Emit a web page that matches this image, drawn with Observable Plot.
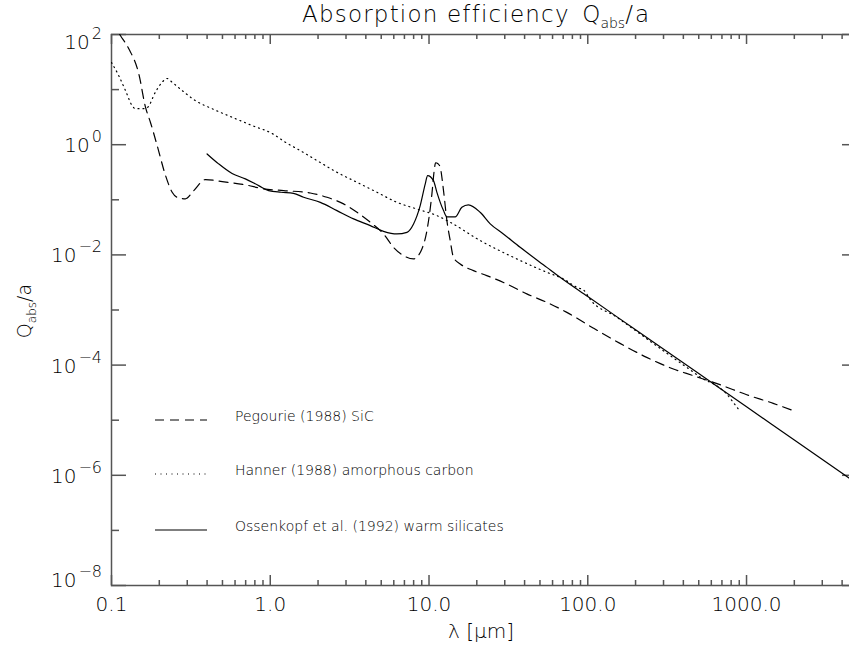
<!DOCTYPE html>
<html>
<head>
<meta charset="utf-8">
<script src="https://cdn.jsdelivr.net/npm/d3@7"></script>
<script src="https://cdn.jsdelivr.net/npm/@observablehq/plot@0.6"></script>
<style>
  html, body { margin: 0; padding: 0; background: #fff; overflow: hidden; }
  #chart { width: 849px; height: 650px; overflow: hidden; }
  #chart svg { max-width: none !important; display: block; }
</style>
</head>
<body>
<div id="chart"></div>
<script>
// ---------- data ----------
const seriesNames = [
  "Pegourie (1988) SiC",
  "Hanner (1988) amorphous carbon",
  "Ossenkopf et al. (1992) warm silicates"
];

// Pegourie (1988) SiC  (dashed)
const pegWave = [0.1, 0.114, 0.1285, 0.1486, 0.1637, 0.1758, 0.194, 0.219, 0.241, 0.259, 0.292, 0.33, 0.391, 0.498, 0.697, 0.909, 1.214, 1.788, 2.278, 2.896, 3.519, 4.266, 5.17, 5.98, 6.91, 7.99, 9.02, 9.7, 10.43, 10.78, 11.0, 11.4, 11.76, 12.34, 12.96, 13.6, 14.26, 15.72, 19.06, 23.1, 30.9, 41.3, 55.2, 73.8, 108, 159.6, 235, 346, 462, 680, 1003, 1472, 1968];
const pegQ    = [170, 95, 55, 19.3, 4.8, 2.56, 0.96, 0.275, 0.137, 0.111, 0.104, 0.147, 0.233, 0.214, 0.187, 0.158, 0.147, 0.133, 0.111, 0.0843, 0.0593, 0.0391, 0.024, 0.0137, 0.0097, 0.00845, 0.01285, 0.0276, 0.128, 0.34, 0.47, 0.45, 0.389, 0.147, 0.0419, 0.01816, 0.00904, 0.00686, 0.00519, 0.00421, 0.00297, 0.00196, 0.001377, 0.000906, 0.000472, 0.000248, 0.000138, 8.5e-5, 6.43e-5, 4.41e-5, 2.90e-5, 2.02e-5, 1.49e-5];

// Hanner (1988) amorphous carbon  (dotted)
const hanWave = [0.1, 0.111, 0.1225, 0.135, 0.1416, 0.156, 0.1678, 0.189, 0.2085, 0.224, 0.241, 0.2786, 0.3378, 0.43, 0.575, 0.768, 1.026, 1.245, 1.546, 1.97, 2.63, 3.516, 4.70, 6.28, 8.39, 11.2, 13.6, 21.0, 34.0, 55.2, 70.2, 85.3, 95, 103, 150, 314, 420, 534, 648, 750, 825, 887];
const hanQ    = [31, 18, 9.6, 5.1, 4.5, 4.5, 4.7, 9.0, 13.6, 15.9, 13.6, 9.6, 6.3, 4.5, 3.15, 2.23, 1.6, 1.11, 0.78, 0.515, 0.316, 0.208, 0.137, 0.090, 0.068, 0.0517, 0.0391, 0.0182, 0.00904, 0.00483, 0.00366, 0.00258, 0.00225, 0.00159, 0.00076, 0.000165, 9.1e-5, 5.6e-5, 4.23e-5, 2.99e-5, 2.10e-5, 1.60e-5];

// Ossenkopf et al. (1992) warm silicates  (solid)
const ossWave = [0.4, 0.473, 0.575, 0.697, 0.845, 0.977, 1.17, 1.40, 1.622, 2.067, 2.63, 3.35, 4.266, 5.17, 6.28, 7.26, 7.99, 8.80, 9.47, 9.8, 10.67, 11.2, 12.34, 12.96, 14.62, 16.1, 17.7, 21.0, 24.3, 29.4, 37.5, 55.2, 66.9, 100, 200, 500, 1000, 2000, 5000];
const ossQ    = [0.68, 0.449, 0.30, 0.24, 0.181, 0.147, 0.137, 0.131, 0.111, 0.090, 0.0637, 0.045, 0.034, 0.0268, 0.024, 0.0257, 0.0365, 0.0785, 0.195, 0.275, 0.223, 0.138, 0.0637, 0.049, 0.049, 0.0731, 0.0809, 0.0593, 0.0365, 0.024, 0.01374, 0.00594, 0.00392, 0.00175, 0.000439, 7.02e-5, 1.75e-5, 4.39e-6, 7.0e-7];

// ticks
const xMajor = [0.1, 1, 10, 100, 1000];
const xMajorLabels = ["0.1", "1.0", "10.0", "100.0", "1000.0"];
const xMinor = [0.2, 0.3, 0.4, 0.5, 0.6, 0.7, 0.8, 0.9,
                2, 3, 4, 5, 6, 7, 8, 9,
                20, 30, 40, 50, 60, 70, 80, 90,
                200, 300, 400, 500, 600, 700, 800, 900,
                2000, 3000, 4000];
const yMajor = [1e2, 1e0, 1e-2, 1e-4, 1e-6, 1e-8];
const yExponents = ["2", "0", "\u22122", "\u22124", "\u22126", "\u22128"];
const yMinor = [1e1, 1e-1, 1e-3, 1e-5, 1e-7];

// ---------- build ----------
const rows = (w, q, s) => w.map((x, i) => ({wave: x, q: q[i], series: s}));
const peg = rows(pegWave, pegQ, seriesNames[0]);
const han = rows(hanWave, hanQ, seriesNames[1]);
const oss = rows(ossWave, ossQ, seriesNames[2]);

const W = 857, H = 650, mL = 111, mR = 0, mT = 34, mB = 65;
const innerW = W - mL - mR, innerH = H - mT - mB;
const AX = "#555", AXW = 1.5;
const FONT = "'DejaVu Sans', sans-serif";
const FW = 200;
const TXT = "#000";

const plot = Plot.plot({
  width: W, height: H,
  marginLeft: mL, marginRight: mR, marginTop: mT, marginBottom: mB,
  x: {type: "log", domain: [0.1, 5000], axis: null},
  y: {type: "log", domain: [1e-8, 1e2], axis: null},
  style: {background: "white", fontFamily: FONT},
  marks: [
    // ticks (inward)
    Plot.ruleX(xMajor, {x: d => d, stroke: AX, strokeWidth: AXW, insetTop: innerH - 10}),
    Plot.ruleX(xMinor, {x: d => d, stroke: AX, strokeWidth: AXW, insetTop: innerH - 5}),
    Plot.ruleX(xMajor, {x: d => d, stroke: AX, strokeWidth: AXW, insetBottom: innerH - 10}),
    Plot.ruleX(xMinor, {x: d => d, stroke: AX, strokeWidth: AXW, insetBottom: innerH - 5}),
    Plot.ruleY(yMajor, {y: d => d, stroke: AX, strokeWidth: AXW, insetRight: innerW - 15}),
    Plot.ruleY(yMinor, {y: d => d, stroke: AX, strokeWidth: AXW, insetRight: innerW - 8}),
    Plot.ruleY(yMajor, {y: d => d, stroke: AX, strokeWidth: AXW, insetLeft: innerW - 15}),
    Plot.ruleY(yMinor, {y: d => d, stroke: AX, strokeWidth: AXW, insetLeft: innerW - 8}),
    Plot.frame({stroke: AX, strokeWidth: AXW}),
    // data
    Plot.line(peg, {x: "wave", y: "q", stroke: "#000", strokeWidth: 1.2, strokeDasharray: "9,6", curve: "monotone-x", clip: true}),
    Plot.line(han, {x: "wave", y: "q", stroke: "#000", strokeWidth: 1.2, strokeDasharray: "1,4", curve: "monotone-x", clip: true}),
    Plot.line(oss, {x: "wave", y: "q", stroke: "#000", strokeWidth: 1.2, curve: "monotone-x", clip: true}),
    // x tick labels
    Plot.text(xMajor, {x: d => d, text: (d, i) => xMajorLabels[i], frameAnchor: "bottom", dy: 25,
      fontSize: 20, fontFamily: FONT, fontWeight: FW, fill: TXT})
  ]
});
document.getElementById("chart").appendChild(plot);

// ---------- text extras (tick exponents, title, axis labels, legend) ----------
const svg = d3.select(plot);
const ys = plot.scale("y");

const gy = svg.append("g").attr("fill", TXT)
  .attr("font-family", FONT).attr("font-weight", FW);
yMajor.forEach((v, i) => {
  const py = ys.apply(v);
  const off = i === 0 ? 7 : (i === yMajor.length - 1 ? -6 : 0);
  const t = gy.append("text")
    .attr("x", 102).attr("y", py + 8 + off)
    .attr("text-anchor", "end");
  t.append("tspan").attr("font-size", 20).text("10");
  t.append("tspan").attr("font-size", 16)
    .attr("dx", 2).attr("dy", -10).text(yExponents[i]);
});

// title
const title = svg.append("text")
  .attr("x", 302).attr("y", 22)
  .attr("text-anchor", "start")
  .attr("font-family", FONT).attr("font-size", 23)
  .attr("font-weight", FW)
  .attr("fill", TXT);
title.append("tspan").attr("letter-spacing", 1.2).text("Absorption efficiency ");
title.append("tspan").attr("dx", 4).text("Q");
title.append("tspan").attr("font-size", 14).attr("dy", 6).text("abs");
title.append("tspan").attr("dy", -6).attr("letter-spacing", 2).text("/a");

// y label
const yl = svg.append("text")
  .attr("transform", "translate(31,311) rotate(-90)")
  .attr("text-anchor", "middle")
  .attr("font-family", FONT).attr("font-size", 19).attr("font-weight", FW)
  .attr("fill", TXT);
yl.append("tspan").text("Q");
yl.append("tspan").attr("font-size", 12).attr("dy", 5).text("abs");
yl.append("tspan").attr("dy", -5).text("/a");

// x label
svg.append("text")
  .attr("x", 481).attr("y", 638)
  .attr("text-anchor", "middle")
  .attr("font-family", FONT).attr("font-size", 20).attr("font-weight", FW)
  .attr("fill", TXT)
  .text("\u03bb [\u03bcm]");

// legend
const legY = [420, 474, 530];
const legDash = ["9,6", "1,4.5", null];
legY.forEach((yy, i) => {
  const ln = svg.append("line")
    .attr("x1", 155).attr("x2", 207).attr("y1", yy).attr("y2", yy)
    .attr("stroke", "#000").attr("stroke-width", 1.2);
  if (legDash[i]) ln.attr("stroke-dasharray", legDash[i]);
  svg.append("text")
    .attr("x", 235).attr("y", yy + 1)
    .attr("text-anchor", "start")
    .attr("font-family", FONT).attr("font-size", 14).attr("font-weight", 300)
    .attr("fill", TXT)
    .text(seriesNames[i]);
});
</script>
</body>
</html>
